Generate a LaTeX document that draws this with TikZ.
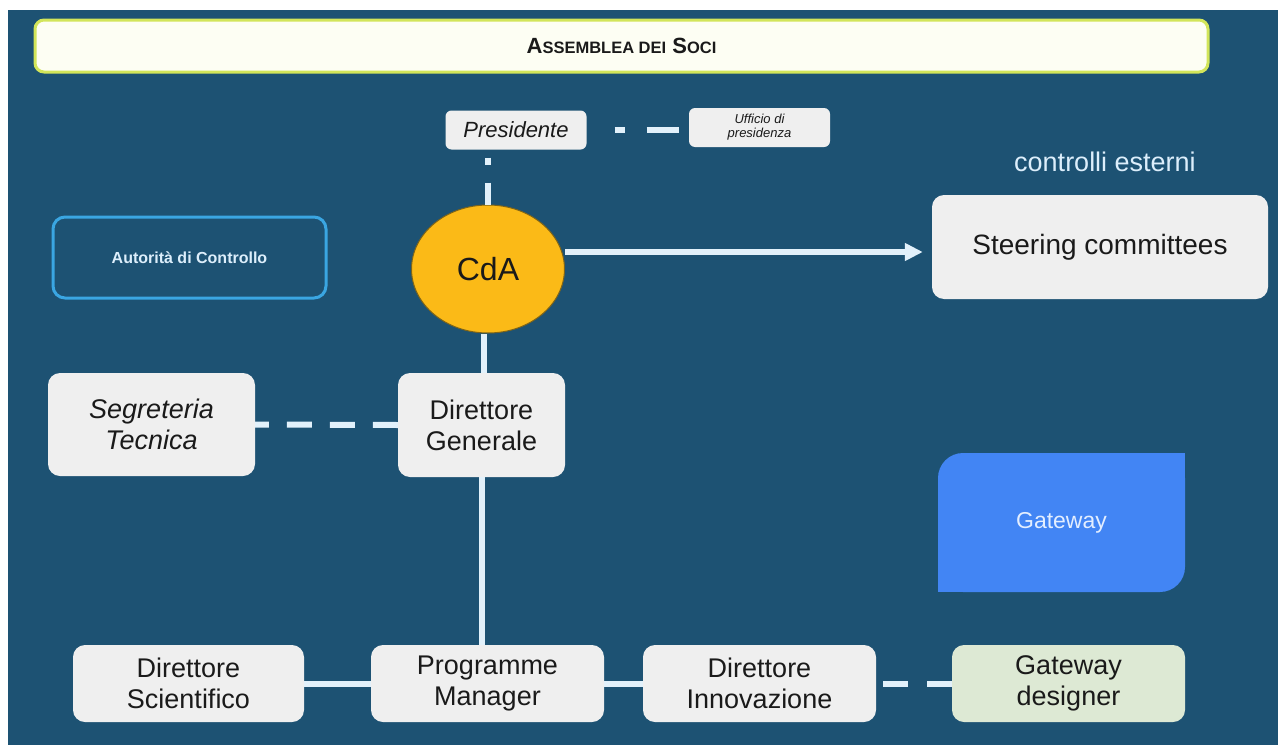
\documentclass[tikz,border=0pt]{standalone}
\usepackage{fontspec}
\setmainfont{Liberation Sans}
\usetikzlibrary{positioning,shapes.geometric,arrows.meta}

\definecolor{bgblue}{HTML}{1D5273}
\definecolor{boxgray}{HTML}{EFEFEF}
\definecolor{txtdark}{HTML}{1A1A1A}
\definecolor{creme}{HTML}{FDFEF3}
\definecolor{lime}{HTML}{D2E55A}
\definecolor{cdaorange}{HTML}{FBBA17}
\definecolor{cdaedge}{HTML}{7E6418}
\definecolor{lighttxt}{HTML}{DCEEFB}
\definecolor{ctrlblue}{HTML}{3AA6E2}
\definecolor{gwblue}{HTML}{4285F4}
\definecolor{gwtxt}{HTML}{E3EEFF}
\definecolor{gdgreen}{HTML}{DDE9D4}
\definecolor{lnk}{HTML}{E2F1FB}

\newcommand{\assc}[1]{{\fontsize{16.5}{17}\selectfont #1}}

\begin{document}
\begin{tikzpicture}[x=1pt, y=-1pt,
  box/.style={fill=boxgray, rounded corners=12pt, align=center, text=txtdark, inner sep=0pt, font=\fontsize{27}{31}\selectfont},
  row/.style={box, minimum width=233pt, minimum height=77pt},
  link/.style={draw=lnk, line width=6pt}]

  \useasboundingbox (0,0) rectangle (1278,747);
  \fill[white] (0,0) rectangle (1278,747);
  \fill[bgblue] (8,10) rectangle (1278,745);

  % Top
  \node[box, fill=creme, draw=lime, line width=3pt, rounded corners=9pt, minimum width=1173pt, minimum height=52pt, font=\bfseries\fontsize{22}{22}\selectfont] (AdS) at (621.5,46) {A\assc{SSEMBLEA DEI} S\assc{OCI}};
  \node[box, rounded corners=6pt, minimum width=141pt, minimum height=39pt, font=\itshape\fontsize{22}{24}\selectfont] (Pres) at (516,130) {Presidente};
  \node[box, rounded corners=6pt, right of=Pres, node distance=243.5pt, yshift=2.5pt, minimum width=141pt, minimum height=39pt, font=\itshape\fontsize{13}{14}\selectfont] (UffP) {Ufficio di\\presidenza};

  % Board
  \node[ellipse, fill=cdaorange, draw=cdaedge, line width=1pt, minimum width=153pt, minimum height=128pt, inner sep=0pt, text=txtdark, font=\fontsize{32}{32}\selectfont] (CdA) at (488,269) {CdA};
  \node[box, minimum width=336pt, minimum height=104pt, font=\fontsize{28}{30}\selectfont] (Steer) at (1100,247) {Steering committees};
  \node[text=lighttxt, font=\fontsize{27}{30}\selectfont] (ctrl) at (1105,162) {controlli esterni};
  \node[box, fill=none, draw=ctrlblue, line width=3pt, minimum width=273pt, minimum height=81pt, text=lighttxt, font=\bfseries\fontsize{16}{18}\selectfont] (AdC) at (189.5,257.5) {Autorità di Controllo};

  % Middle row
  \node[box, minimum width=207pt, minimum height=103pt, font=\itshape\fontsize{27}{31}\selectfont] (SegT) at (151.5,424.5) {Segreteria\\Tecnica};
  \node[box, minimum width=167pt, minimum height=104pt] (DG) at (481.5,425) {Direttore\\Generale};
  \node[box, fill=gwblue, rounded corners=25pt, minimum width=247pt, minimum height=139pt, text=gwtxt, font=\fontsize{23}{25}\selectfont] (GW) at (1061.5,522.5) {Gateway};
  \fill[gwblue] (GW.north east) rectangle ++(-30,30);
  \fill[gwblue] (GW.south west) rectangle ++(30,-30);

  % Bottom row
  \node[row] (PM) at (487.5,683.5) {Programme\\Manager};
  \node[row, left of=PM, node distance=299pt, minimum width=231pt] (DS) {Direttore\\Scientifico};
  \node[row, right of=PM, node distance=272pt] (DI) {Direttore\\Innovazione};
  \node[row, fill=gdgreen, right of=DI, node distance=309pt] (GD) {Gateway\\designer};

  % links
  \draw[link, dash pattern=on 7pt off 18pt on 40pt off 8pt, dash phase=65pt] (CdA.north |- Pres.south) -- (CdA.north);
  \draw[link, dash pattern=on 10pt off 22pt on 32pt off 41pt, dash phase=77pt] (Pres.east) -- (Pres.east -| UffP.west);
  \draw[link, -{Triangle[length=18pt,width=17pt]}, shorten >=9pt] ([yshift=17pt]CdA.east) -- ([yshift=17pt]CdA.east -| Steer.west);
  \draw[link] ([xshift=2.5pt]DG.north) -- ([xshift=2.5pt]DG.north |- CdA.south);
  \draw[link, dash pattern=on 25pt off 18pt] (DG.west) -- (SegT.east);
  \draw[link] (DG.south) -- (DG.south |- PM.north);
  \draw[link] (DS.east) -- (PM.west);
  \draw[link] (PM.east) -- (DI.west);
  \draw[link, dash pattern=on 25pt off 19pt] (GD.west) -- (DI.east);

\end{tikzpicture}
\end{document}
